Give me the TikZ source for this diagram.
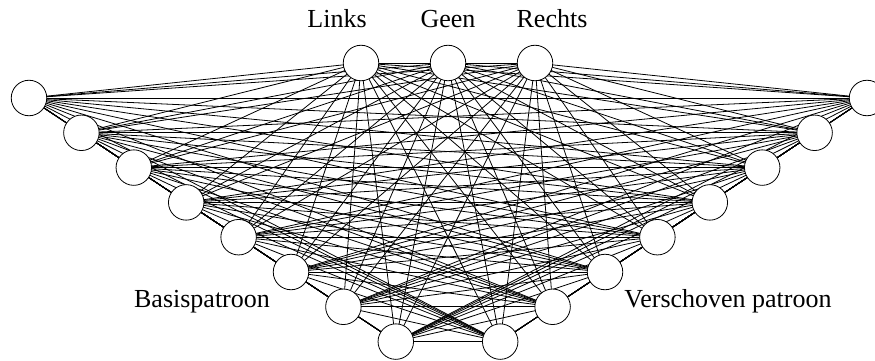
\documentclass[tikz,border=0pt]{standalone}
\usepackage{fontspec}
\setmainfont{Liberation Serif}
\usetikzlibrary{backgrounds}
\begin{document}
\begin{tikzpicture}[x=1pt,y=-1pt,
  unit/.style={circle,draw,fill=white,minimum size=35.5pt,inner sep=0pt,line width=0.8pt},
  link/.style={line width=0.8pt},
  lbl/.style={anchor=base,font=\fontsize{26}{30}\selectfont,inner sep=0pt}]
\useasboundingbox (0,0) rectangle (875,361);
% output units
\node[unit] (T1) at (361,63) {};
\node[unit] (T2) at (448,63) {};
\node[unit] (T3) at (535,63) {};
% input units: left and right chains
\foreach \i in {0,...,7} {
  \node[unit] (L\i) at ({29+52.4*\i},{98+34.8*\i}) {};
  \node[unit] (R\i) at ({867-52.4*\i},{98+34.8*\i}) {};
}
% every unit is connected to every other unit
\begin{scope}[on background layer]
\foreach \a [count=\i] in {T1,T2,T3,L0,L1,L2,L3,L4,L5,L6,L7,R0,R1,R2,R3,R4,R5,R6,R7} {
  \foreach \b [count=\j] in {T1,T2,T3,L0,L1,L2,L3,L4,L5,L6,L7,R0,R1,R2,R3,R4,R5,R6,R7} {
    \ifnum\j>\i \draw[link] (\a.center) -- (\b.center); \fi
  }
}
\end{scope}
% labels
\node[lbl] (tl) at (337,28) {Links};
\node[lbl] (tg) at (448,28) {Geen};
\node[lbl] (tr) at (552,28) {Rechts};
\node[lbl] (bp) at (202,307) {Basispatroon};
\node[lbl] (vp) at (728,307) {Verschoven patroon};
\end{tikzpicture}
\end{document}
